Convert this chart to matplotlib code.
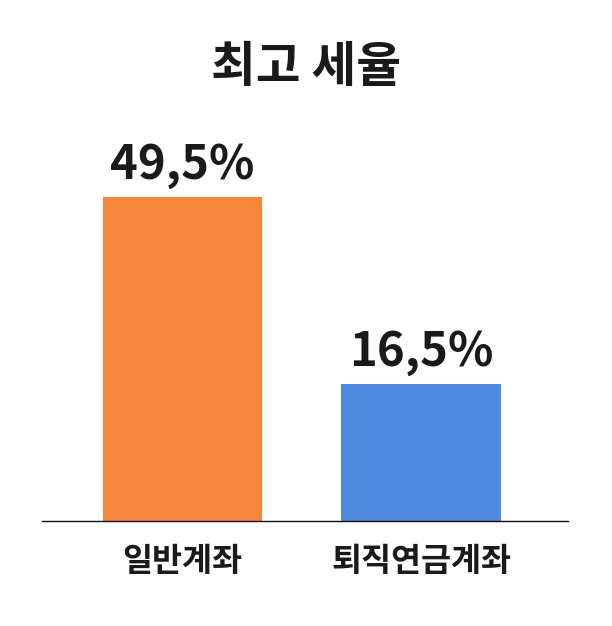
import matplotlib
matplotlib.use("Agg")
import matplotlib.pyplot as plt

plt.rcParams['font.family'] = ['Noto Sans CJK KR', 'DejaVu Sans']

title = "최고 세율"
categories = ["일반계좌", "퇴직연금계좌"]
rates = [49.5, 16.5]                 # labelled values
bar_heights = [49.5, 20.9]           # heights as drawn in the picture
value_labels = ["49,5%", "16,5%"]
colors = ["#F5863C", "#5088DD"]

W, H = 612, 626
fig = plt.figure(figsize=(W / 100, H / 100), dpi=100)
left_px, right_px, base_px, top_px = 42, 568, 521, 100
ax = fig.add_axes([left_px / W, (H - base_px) / H,
                   (right_px - left_px) / W, (base_px - top_px) / H])

x = list(range(len(categories)))
ax.bar(x, bar_heights, width=0.667, color=colors, zorder=2)
ax.set_xlim(-0.589, 1.616)
ax.set_ylim(0, 49.5 * (base_px - top_px) / (base_px - 197))

for xi, h, lab in zip(x, bar_heights, value_labels):
    ax.annotate(lab, (xi, h), xytext=(0, 6), textcoords="offset points",
                ha="center", va="bottom", fontsize=34, fontweight="bold",
                color="#1a1a1a", clip_on=False)

ax.set_xticks(x)
ax.set_xticklabels(categories, fontsize=23.5, fontweight="bold", color="#1a1a1a")
ax.tick_params(axis="x", length=0, pad=17)
ax.set_yticks([])
for s in ["top", "right", "left"]:
    ax.spines[s].set_visible(False)
ax.spines["bottom"].set_linewidth(1.0)
ax.spines["bottom"].set_color("#111111")

fig.text(306 / W, 1 - 67 / H, title, ha="center", va="center",
         fontsize=35, fontweight="bold", color="#1a1a1a")

fig.savefig("out.png", dpi=100, facecolor="white")
